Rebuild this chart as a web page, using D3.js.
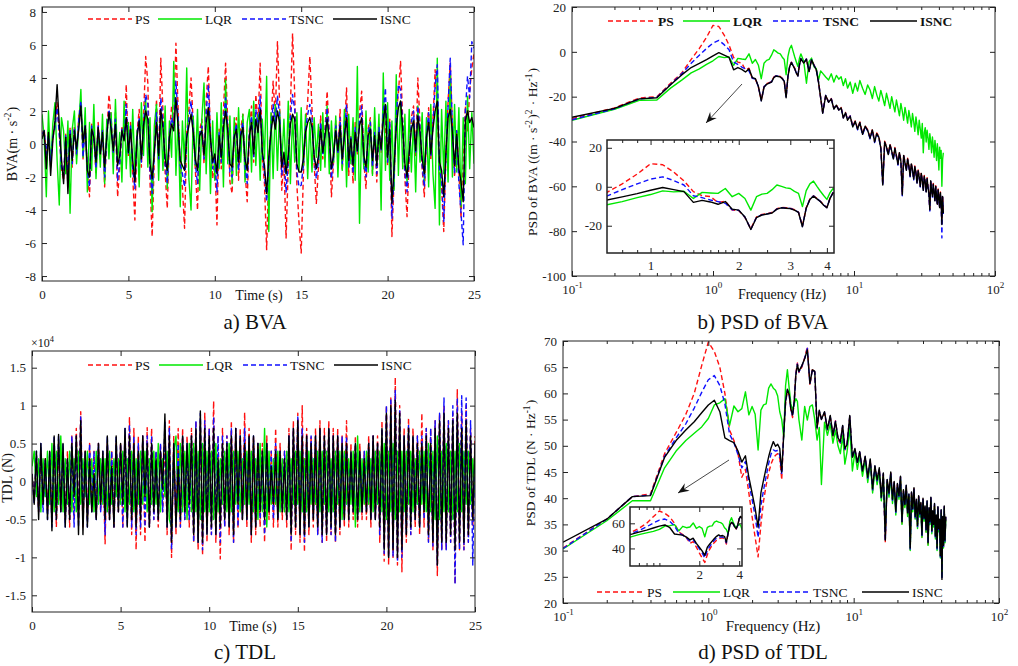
<!DOCTYPE html>
<html>
<head>
<meta charset="utf-8">
<script src="https://cdn.jsdelivr.net/npm/d3@7"></script>
<style>
body { margin: 0; background: #fff; }
</style>
</head>
<body>
<svg id="fig" width="1018" height="666"></svg>
<script>
// ---------------- data ----------------
var names = ["PS", "LQR", "TSNC", "ISNC"];
var timeStep = 0.125;          // s, time-domain samples
var timeTicks = [0, 5, 10, 15, 20, 25];

// a) BVA (m/s^2)
var bvaPS = [
 0.6, 0.9, -0.7, 0.5, -1.3, 0.4, 1.2, 2.5,
 0.7, -1.5, -2.2, 0.6, -2.6, 1.0, -1.4, 1.1,
 -0.7, 1.7, 2.5, -0.9, 1.4, -1.8, -3.2, 1.2,
 0.5, -1.8, 1.3, -0.7, 1.0, -2.6, 0.6, 3.0,
 1.6, -0.6, 1.9, -3.2, -1.4, 1.1, 0.2, 3.6,
 -0.8, 1.3, -2.0, -4.6, 0.7, 2.1, -1.4, 1.5,
 5.3, 3.7, -2.3, -5.6, -0.8, 2.7, -1.2, 5.2,
 2.0, -1.7, -3.9, 0.6, 2.3, 1.4, 6.1, 2.2,
 -1.8, -2.6, -5.1, 0.7, 2.1, 4.0, 1.2, -1.6,
 -4.0, 0.8, 1.5, -1.2, 2.6, 4.7, 0.5, -2.1,
 -1.0, -4.9, 0.9, -1.5, 2.0, 4.9, 1.3, -2.3,
 -3.0, 0.7, 1.6, -2.2, 0.9, 1.8, -1.7, -3.5,
 0.8, 2.3, -1.1, 3.0, 1.2, 4.9, -0.9, -2.4,
 -6.4, -1.5, 1.2, 3.8, 1.6, 6.2, 2.5, -2.8,
 -0.9, -5.7, -1.4, 2.2, 6.7, 3.0, -2.5, -4.8,
 -6.6, -1.9, 1.3, 2.6, 5.3, 2.1, -1.2, -3.6,
 -1.4, 1.7, -0.9, 0.8, 3.2, 0.6, -3.2, -1.0,
 1.4, -0.8, 2.1, -1.6, 0.7, 3.4, -1.9, 0.5,
 -2.4, 1.3, -0.6, 1.9, 3.2, -1.1, -2.7, 0.9,
 1.6, -1.8, 0.8, -2.3, 1.2, -0.5, 2.4, 1.0,
 -1.3, 1.5, -5.6, -2.2, 1.8, 3.1, 5.0, 1.4,
 -2.1, -4.4, -0.8, 1.6, 2.3, -0.7, 4.0, 1.2,
 -1.5, -3.2, 0.6, 2.2, -1.0, 1.4, 4.5, 2.0,
 -1.7, -2.6, -5.3, -0.8, 2.6, 4.9, 1.1, -2.0,
 0.9, -1.6, -4.5, -0.6, 2.3, 0.8, 3.2, 4.6,
 5.5];
var bvaLQR = [
 1.8, 0.4, -3.2, 2.0, -1.4, 1.2, 2.5, -1.0,
 -3.7, 1.6, 0.8, -1.8, 1.4, -4.2, 0.9, 2.0,
 -1.2, 1.1, 3.3, -0.8, 2.2, -2.9, 1.3, -1.6,
 2.4, -2.1, 0.9, -1.4, 1.8, -2.4, 1.5, -0.9,
 1.9, -1.8, 2.7, -1.1, 0.7, -2.3, 2.6, -1.5,
 1.3, -2.0, 2.1, -1.6, 0.8, -2.6, 2.5, -0.7,
 2.8, -1.4, 1.6, -4.1, 1.1, 2.4, -2.2, 1.8,
 -1.6, 2.3, -2.7, 1.4, -0.8, 5.0, -1.9, 1.6,
 -3.8, 1.4, -1.2, 4.6, -2.1, -4.0, 1.7, -1.3,
 2.1, -2.8, 1.5, 3.7, -1.8, 2.2, -3.0, 1.4,
 -2.2, 1.9, -1.5, 2.5, -2.6, 3.9, -1.2, 1.7,
 -2.4, 1.6, -1.9, 2.2, -1.1, 1.8, -2.3, 1.3,
 2.1, -1.7, 2.6, -1.3, 1.8, -2.2, 1.5, -0.9,
 4.1, -5.3, 1.9, -2.1, 2.4, -1.6, 2.0, -1.2,
 1.5, -1.8, 2.6, -2.4, 1.7, -1.1, 1.9, -1.6,
 2.2, -1.4, 1.8, -2.1, 1.3, -1.7, 1.6, -0.8,
 1.2, -1.6, 1.9, -1.4, 2.3, -1.8, 1.4, -1.1,
 1.7, -2.0, 1.3, -1.6, 2.1, -2.6, 1.8, -1.2,
 1.6, -2.2, 4.7, -4.8, 1.2, -1.5, 2.0, -1.7,
 1.4, -1.9, 2.2, -1.3, 1.8, -4.0, 4.3, -1.6,
 2.5, -2.2, 1.4, -2.8, 4.2, -1.9, 2.6, -1.5,
 1.8, -2.4, 2.1, -1.7, 1.5, -2.9, 2.3, -1.1,
 1.9, -2.3, 1.6, -2.6, 2.4, -1.8, -3.9, 5.2,
 -4.9, 2.1, -1.8, 2.6, -2.3, 4.3, -2.0, 2.4,
 -1.7, 2.2, -3.8, 1.6, -2.4, 2.9, -1.5, 1.9,
 -1.2];
var bvaTSNC = [
 0.6, 0.8, -0.6, 0.5, -1.1, 0.4, 1.0, 2.2,
 0.6, -1.4, -1.9, 0.5, -2.1, 0.9, -1.2, 1.0,
 -0.6, 1.5, 2.6, -0.8, 1.2, -1.6, -2.6, 1.1,
 0.4, -1.5, 1.1, -0.6, 0.8, -2.0, 0.5, 2.1,
 1.2, -0.5, 1.5, -2.2, -1.1, 0.9, 0.2, 2.4,
 -0.6, 1.1, -1.5, -2.7, 0.6, 1.6, -1.1, 1.2,
 3.0, 2.4, -1.7, -3.0, -0.6, 1.9, -0.9, 2.8,
 1.4, -1.2, -2.4, 0.5, 1.6, 1.1, 3.8, 1.6,
 -1.3, -1.8, -2.6, 0.5, 1.5, 2.6, 0.9, -1.2,
 -2.4, 0.6, 1.1, -0.9, 1.8, 3.6, 0.4, -1.5,
 -0.8, -2.9, 0.7, -1.1, 1.4, 2.8, 1.0, -1.7,
 -2.0, 0.5, 1.2, -1.6, 0.7, 1.3, -1.3, -2.4,
 0.6, 1.7, -0.8, 2.1, 0.9, 2.9, -0.7, -1.8,
 -3.5, -1.1, 0.9, 2.4, 1.2, 2.9, 1.8, -1.9,
 -0.7, -2.9, -1.0, 1.6, 3.0, 2.1, -1.7, -2.6,
 -2.5, -1.3, 0.9, 1.8, 2.4, 1.5, -0.9, -2.1,
 -1.0, 1.3, -0.7, 0.6, 2.2, 0.5, -2.1, -0.8,
 1.1, -0.6, 1.6, -1.2, 0.6, 2.4, -1.4, 0.4,
 -1.8, 1.0, -0.5, 1.5, 2.3, -0.9, -2.0, 0.7,
 1.3, -1.4, 0.7, -1.8, 1.0, -0.4, 1.9, 3.4,
 -1.1, 1.3, -4.5, -1.9, 1.5, 3.6, 3.3, 1.2,
 -1.7, -2.9, -0.7, 1.3, 2.0, -0.6, 2.3, 1.0,
 -1.3, -2.6, 0.5, 1.9, -0.8, 1.2, 3.5, 4.8,
 -1.5, -2.2, -4.7, -0.7, 2.3, 5.2, 1.0, -1.8,
 0.8, -2.4, -4.2, -6.1, 2.0, 4.1, 2.8, 6.2,
 5.8];
var bvaISNC = [
 0.3, 0.8, -1.5, 0.7, -1.9, 0.2, 1.4, 3.6,
 1.2, -0.9, -2.4, 0.4, -3.0, 0.6, -1.0, 0.8,
 -0.3, 0.9, 2.3, 0.1, 1.1, -1.6, -2.0, 0.9,
 0.4, -1.1, 1.0, -0.6, 0.7, -1.4, 0.5, 1.9,
 0.9, -0.4, 1.2, -1.3, -0.7, 0.8, 0.2, 1.6,
 -0.5, 0.9, -1.0, -2.3, 0.4, 1.4, -0.9, 1.1,
 2.0, 1.5, -1.2, -2.1, -0.5, 1.3, -0.7, 2.1,
 1.0, -0.9, -1.6, 0.4, 1.2, 0.8, 2.8, 1.1,
 -1.0, -1.3, -1.6, 0.4, 1.1, 1.8, 0.7, -0.9,
 -1.6, 0.5, 0.8, -0.7, 1.3, 2.2, 0.3, -1.1,
 -0.6, -1.8, 0.5, -0.8, 1.0, 2.0, 0.8, -1.2,
 -1.4, 0.4, 0.9, -1.1, 0.5, 1.0, -0.9, -1.6,
 0.5, 1.3, -0.6, 1.5, 0.7, 2.1, -0.5, -1.3,
 -3.0, -0.8, 0.7, 1.7, 0.9, 2.0, 1.3, -1.4,
 -0.5, -1.8, -0.7, 1.2, 1.8, 1.5, -1.2, -1.7,
 -1.7, -0.9, 0.7, 1.3, 1.6, 1.0, -0.7, -1.5,
 -0.7, 0.9, -0.5, 0.5, 1.5, 0.4, -1.5, -0.6,
 0.8, -0.4, 1.1, -0.9, 0.5, 1.6, -1.0, 0.3,
 -1.3, 0.7, -0.4, 1.1, 1.6, -0.7, -1.4, 0.5,
 0.9, -1.0, 0.5, -1.3, 0.7, -0.3, 1.4, 2.4,
 -0.8, 0.9, -3.6, -1.4, 1.0, 2.2, 2.6, 0.9,
 -1.2, -2.0, -0.5, 0.9, 1.4, -0.4, 1.7, 0.7,
 -0.9, -1.8, 0.4, 1.3, -0.6, 0.9, 2.0, 2.6,
 -1.1, -1.6, -3.2, -0.5, 1.6, 2.1, 0.7, -1.3,
 0.6, -1.5, -2.3, -3.5, 1.4, 2.0, 1.3, 1.6,
 1.0];

// c) TDL (x10^4 N)
var tdlPS = [
 0.1, -0.2, 0.3, -0.4, 0.4, -0.3, 0.3, -0.4,
 0.3, -0.5, 0.5, -0.6, 0.5, -0.4, 0.4, -0.5,
 0.4, -0.6, 0.6, -0.5, 0.7, -0.5, 0.92, -0.6,
 0.4, -0.5, 0.5, -0.4, 0.4, -0.5, 0.5, -0.4,
 0.3, -0.82, 0.5, -0.5, 0.4, -0.6, 0.5, -0.4,
 0.5, -0.6, 0.6, -0.5, 0.84, -0.7, 0.7, -0.9,
 0.6, -0.7, 0.6, -0.8, 0.71, -0.6, 0.7, -0.5,
 0.4, -0.6, 0.5, -0.4, 0.6, -0.7, 0.8, -1.0,
 0.6, -0.7, 0.7, -0.6, 0.7, -0.5, 0.6, -0.6,
 0.7, -0.8, 0.8, -0.9, 0.8, -0.97, 0.9, -0.8,
 0.7, -0.7, 1.06, -0.8, 0.6, -1.02, 0.7, -0.6,
 0.6, -0.7, 0.8, -0.8, 0.7, -0.6, 0.7, -0.5,
 0.91, -0.6, 0.7, -0.8, 0.6, -0.7, 0.5, -0.6,
 0.5, -0.8, 0.6, -0.5, 0.4, -0.6, 0.7, -0.6,
 0.5, -0.5, 0.4, -0.6, 0.7, -0.91, 0.8, -0.7,
 0.9, -0.8, 1.0, -0.93, 0.7, -0.7, 0.6, -0.6,
 0.7, -0.7, 0.8, -0.8, 0.7, -0.8, 0.8, -0.7,
 0.7, -0.8, 0.7, -0.7, 0.6, -0.6, 0.8, -0.6,
 0.5, -0.5, 0.6, -0.6, 0.5, -0.5, 0.4, -0.5,
 0.6, -0.6, 0.6, -0.5, 0.6, -0.8, 0.8, -1.05,
 1.0, -1.1, 1.1, -1.0, 1.37, -1.1, 1.0, -1.19,
 0.7, -0.8, 0.84, -0.7, 0.7, -0.6, 0.6, -0.7,
 0.9, -0.6, 0.7, -0.8, 0.7, -0.9, 0.8, -1.24,
 0.9, -0.9, 1.0, -0.9, 0.8, -0.8, 0.9, -1.35,
 1.21, -0.9, 0.9, -0.9, 1.0, -0.8, 0.7, -0.6,
 0.6];
var tdlLQR = [
 0.2, 0.4, -0.2, 0.3, -0.4, 0.3, -0.2, 0.4,
 -0.3, 0.5, -0.4, 0.4, -0.3, 0.6, -0.4, 0.3,
 -0.3, 0.4, -0.4, 0.3, -0.4, 0.4, -0.3, 0.3,
 -0.2, 0.4, -0.3, 0.3, -0.4, 0.4, -0.3, 0.3,
 -0.3, 0.3, -0.4, 0.4, -0.3, 0.3, -0.2, 0.3,
 -0.3, 0.4, -0.4, 0.3, -0.3, 0.4, -0.4, 0.3,
 -0.3, 0.4, -0.3, 0.4, -0.4, 0.3, -0.3, 0.4,
 -0.3, 0.5, -0.4, 0.3, -0.2, 0.4, -0.5, -0.6,
 0.4, 0.6, -0.4, 0.5, -0.4, 0.4, -0.5, 0.5,
 -0.4, 0.5, -0.4, 0.4, -0.5, 0.5, -0.4, 0.4,
 -0.4, 0.4, -0.5, 0.5, -0.4, 0.3, -0.3, 0.4,
 -0.4, 0.5, -0.4, 0.4, -0.3, 0.4, -0.4, 0.3,
 -0.3, 0.4, -0.3, 0.4, -0.4, 0.3, -0.5, 0.5,
 -0.4, 0.7, -0.6, 0.4, -0.3, 0.3, -0.3, 0.4,
 -0.4, 0.3, -0.4, 0.4, -0.4, 0.3, -0.3, 0.4,
 -0.3, 0.4, -0.4, 0.3, -0.4, 0.4, -0.3, 0.3,
 -0.3, 0.4, -0.4, 0.4, -0.3, 0.4, -0.4, 0.3,
 -0.4, 0.4, -0.3, 0.4, -0.5, 0.4, -0.3, 0.3,
 -0.3, 0.4, -0.6, 0.6, -0.4, 0.3, -0.3, 0.4,
 -0.3, 0.3, -0.4, 0.4, -0.3, 0.4, -0.4, 0.5,
 -0.5, 0.4, -0.4, 0.5, -0.5, 0.4, -0.4, 0.4,
 -0.4, 0.4, -0.3, 0.4, -0.4, 0.3, -0.3, 0.4,
 -0.3, 0.4, -0.4, 0.5, -0.4, 0.4, -0.5, 0.6,
 -0.5, 0.4, -0.4, 0.5, -0.4, 0.4, -0.5, 0.4,
 -0.4, 0.5, -0.4, 0.4, -0.3, 0.4, -0.3, 0.3,
 -0.2];
var tdlTSNC = [
 0.1, -0.3, 0.4, -0.4, 0.5, -0.4, 0.3, -0.5,
 0.4, -0.6, 0.6, -0.5, 0.6, -0.4, 0.5, -0.6,
 0.3, -0.5, 0.6, -0.6, 0.6, -0.6, 0.85, -0.5,
 0.4, -0.6, 0.5, -0.4, 0.4, -0.5, 0.5, -0.4,
 0.4, -0.7, 0.6, -0.5, 0.4, -0.6, 0.6, -0.4,
 0.5, -0.6, 0.7, -0.6, 0.75, -0.6, 0.6, -0.7,
 0.5, -0.6, 0.6, -0.6, 0.6, -0.6, 0.6, -0.5,
 0.4, -0.5, 0.5, -0.4, 0.8, -0.6, 0.7, -0.9,
 0.5, -0.6, 0.5, -0.6, 0.6, -0.5, 0.5, -0.5,
 0.6, -0.8, 0.8, -0.8, 0.9, -0.9, 0.8, -0.7,
 0.7, -0.7, 0.85, -0.7, 0.6, -0.8, 0.6, -0.6,
 0.6, -0.6, 0.7, -0.8, 0.7, -0.6, 0.6, -0.5,
 0.7, -0.5, 0.6, -0.7, 0.6, -0.6, 0.5, -0.5,
 0.4, -0.7, 0.5, -0.4, 0.4, -0.5, 0.5, -0.5,
 0.4, -0.4, 0.4, -0.5, 0.6, -0.8, 0.7, -0.6,
 0.85, -0.7, 0.7, -0.8, 0.6, -0.6, 0.6, -0.5,
 0.6, -0.7, 0.7, -0.8, 0.6, -0.7, 0.7, -0.7,
 0.6, -0.8, 0.6, -0.6, 0.6, -0.5, 0.6, -0.5,
 0.4, -0.4, 0.5, -0.5, 0.4, -0.4, 0.4, -0.4,
 0.5, -0.5, 0.6, -0.5, 0.5, -0.7, 0.7, -0.95,
 1.0, -1.0, 1.1, -1.0, 1.2, -1.05, 0.95, -1.0,
 0.6, -0.7, 0.75, -0.7, 0.6, -0.5, 0.6, -0.6,
 0.6, -0.5, 0.7, -0.8, 0.7, -0.85, 0.8, -1.1,
 0.9, -0.9, 1.1, -0.9, 0.8, -0.8, 1.0, -1.35,
 1.1, -0.9, 1.13, -0.9, 1.1, -0.8, 0.8, -1.1,
 0.5];
var tdlISNC = [
 0.1, -0.3, 0.4, -0.5, 0.5, -0.3, 0.3, -0.5,
 0.4, -0.65, 0.6, -0.5, 0.62, -0.4, 0.5, -0.6,
 0.3, -0.5, 0.5, -0.2, 0.6, -0.7, 0.8, -0.7,
 0.4, -0.6, 0.3, -0.4, 0.1, -0.5, 0.5, -0.3,
 0.4, -0.5, 0.6, -0.5, 0.2, -0.6, 0.6, -0.4,
 0.5, -0.3, 0.7, -0.6, 0.6, -0.5, 0.5, -0.6,
 0.4, -0.5, 0.6, -0.2, 0.5, -0.6, 0.5, -0.4,
 0.3, -0.5, 0.4, -0.1, 0.89, -0.6, 0.6, -0.8,
 0.5, -0.6, 0.2, -0.5, 0.6, -0.4, 0.5, -0.3,
 0.6, -0.7, 0.7, -0.8, 0.93, -0.8, 0.7, -0.7,
 0.6, -0.6, 0.7, -0.7, 0.3, -0.6, 0.5, -0.5,
 0.5, -0.6, 0.6, -0.7, 0.7, -0.3, 0.6, -0.5,
 0.5, -0.5, 0.6, -0.7, 0.6, -0.6, 0.5, -0.4,
 0.4, -0.5, 0.5, -0.4, 0.2, -0.3, 0.4, -0.5,
 0.4, -0.4, 0.3, -0.5, 0.6, -0.7, 0.7, -0.6,
 0.8, -0.7, 0.6, -0.7, 0.6, -0.6, 0.5, -0.5,
 0.6, -0.6, 0.7, -0.7, 0.6, -0.7, 0.7, -0.6,
 0.6, -0.7, 0.6, -0.6, 0.5, -0.5, 0.5, -0.5,
 0.4, -0.4, 0.5, -0.5, 0.4, -0.4, 0.3, -0.4,
 0.5, -0.5, 0.6, -0.5, 0.5, -0.6, 0.7, -0.9,
 0.9, -1.0, 1.0, -0.9, 1.07, -1.0, 0.9, -0.9,
 0.6, -0.7, 0.7, -0.6, 0.6, -0.5, 0.5, -0.6,
 0.5, -0.4, 0.6, -0.7, 0.5, -0.8, 0.7, -1.1,
 0.8, -0.8, 0.9, -0.8, 0.7, -0.7, 0.8, -0.9,
 0.9, -0.8, 0.7, -0.8, 0.8, -0.7, 0.6, -0.5,
 0.5];

// PSD frequency grid (Hz)
var freqs = [
 0.1, 0.2, 0.3, 0.4, 0.5, 0.6, 0.7, 0.8, 0.9, 1.0,
 1.1, 1.2, 1.3, 1.4, 1.5, 1.6, 1.7, 1.8, 1.9, 2.0,
 2.1, 2.2, 2.3, 2.4, 2.5, 2.6, 2.7, 2.8, 2.9, 3.0,
 3.1, 3.2, 3.3, 3.4, 3.5, 3.6, 3.7, 3.8, 3.9, 4.0, 4.1, 4.2,
 4.4, 4.6, 4.8, 5.0, 5.2, 5.4, 5.6, 5.8, 6.0, 6.3, 6.6, 6.9, 7.2, 7.5, 7.8, 8.1, 8.4, 8.7, 9.0, 9.4, 9.8,
 10.2, 10.6, 11.0, 11.5, 12, 12.5, 13, 13.5, 14, 14.5,
 15, 15.5, 16, 16.5, 17, 17.5, 18, 18.5, 19, 19.5,
 20, 20.5, 21, 21.5, 22, 22.5, 23, 23.5, 24, 24.5,
 25, 25.5, 26, 26.5, 27, 27.5, 28, 28.5, 29, 29.5,
 30, 30.5, 31, 31.5, 32, 32.5, 33, 33.5, 34, 34.5,
 35, 35.5, 36, 36.5, 37, 37.5, 38, 38.5, 39, 39.5,
 40, 40.5, 41, 41.5, 42, 42.5, 43];

// b) PSD of BVA
var psdBvaPS = [
 -29.8, -25.0, -20.6, -20.0, -14.0, -9.5, -3.4, 1.5, 6.5, 11.8,
 11.3, 7.5, 3.0, -2.5, -4.6, -5.0, -8.1, -7.3, -12.0, -12.2,
 -15.8, -21.6, -15.5, -14.2, -13.8, -13.2, -11.3, -10.6, -10.8, -11.0,
 -11.8, -13.0, -20.2, -10.8, -6.3, -4.6, -6.0, -7.4, -9.3, -10.6, -5.8, -3.0,
 -4.8, -3.2, -8.6, -3.4, -5.8, -7.8, -13.3, -20.3, -27.0, -19.3, -22.3, -20.8, -25.2, -23.6, -25.8, -24.8, -29.3, -27.0, -30.2, -28.5, -33.2,
 -30.8, -34.2, -31.3, -36.5, -33.0, -34.7, -38.2, -34.5, -39.9, -36.2,
 -37.7, -42.7, -59.0, -39.9, -42.2, -45.5, -41.2, -43.9, -47.5, -42.7,
 -46.2, -49.9, -44.7, -48.5, -63.5, -45.9, -49.2, -52.5, -47.5, -50.7,
 -55.2, -49.7, -52.5, -56.5, -50.9, -53.7, -58.2, -52.7, -55.5, -59.7,
 -53.9, -57.2, -61.5, -55.2, -57.9, -62.2, -56.2, -60.2, -63.2, -70.2,
 -57.2, -61.5, -64.2, -58.7, -62.7, -66.2, -59.7, -64.5, -67.7, -61.2,
 -65.2, -69.2, -62.5, -66.7, -76.5, -64.2, -71.7];
var psdBvaLQR = [
 -30.5, -25.6, -21.6, -21.5, -16.2, -12.6, -9.4, -7.6, -5.6, -4.0,
 -2.1, -2.6, -2.3, -6.0, -2.9, -3.2, -3.4, -0.9, -5.1, -3.4,
 -6.0, -12.0, -5.1, -3.8, -3.4, -1.5, 0.9, 0.2, -0.6, -0.9,
 -2.4, -3.4, -10.2, -2.0, 1.5, 2.9, 0.2, -2.3, -4.5, -6.5, -3.0, -0.9,
 -4.2, -14.0, -4.4, -2.8, -6.6, -7.5, -12.6, -8.5, -9.6, -11.2, -12.6, -9.8, -13.5, -10.5, -12.2, -11.1, -15.0, -12.0, -16.2, -13.5, -18.5,
 -14.0, -17.5, -12.8, -16.2, -19.0, -14.8, -17.0, -20.8, -15.5, -19.2,
 -22.0, -17.2, -20.5, -24.0, -18.5, -21.8, -25.2, -20.0, -23.5, -26.8,
 -21.5, -25.0, -28.5, -23.0, -26.5, -30.5, -24.8, -28.0, -31.8, -26.2,
 -29.5, -33.5, -27.5, -31.0, -35.5, -29.0, -32.8, -37.0, -30.5, -34.5,
 -38.5, -32.0, -45.0, -36.0, -33.8, -40.2, -35.0, -38.5, -43.5, -36.5,
 -40.0, -45.0, -38.0, -42.0, -47.0, -39.5, -43.5, -48.5, -41.0, -45.5,
 -52.7, -42.5, -47.5, -44.0, -60.0, -48.0, -45.0];
var psdBvaTSNC = [
 -30.3, -25.4, -21.0, -20.3, -14.5, -9.8, -5.1, -1.5, 1.5, 3.9,
 5.1, 3.2, 0.9, -4.6, -5.6, -6.8, -7.6, -8.5, -11.8, -12.1,
 -15.6, -21.8, -15.6, -14.4, -13.9, -13.4, -11.4, -10.7, -10.9, -11.1,
 -11.9, -13.1, -20.4, -10.9, -6.4, -4.7, -6.1, -7.5, -9.4, -10.7, -5.9, -3.0,
 -4.9, -3.2, -8.7, -3.5, -5.9, -7.9, -13.4, -20.4, -27.2, -19.4, -22.4, -20.9, -25.3, -23.7, -25.9, -24.9, -29.4, -27.1, -30.3, -28.6, -33.4,
 -31.3, -34.8, -31.8, -37.1, -33.5, -35.3, -38.8, -35.1, -40.5, -36.8,
 -38.3, -43.3, -59.8, -40.5, -42.8, -46.1, -41.8, -44.5, -48.1, -43.3,
 -46.8, -50.5, -45.3, -49.1, -64.2, -46.5, -49.8, -53.1, -48.1, -51.3,
 -55.8, -50.3, -53.1, -57.1, -51.5, -54.3, -58.8, -53.3, -56.1, -60.3,
 -54.5, -57.8, -62.1, -55.8, -58.5, -62.8, -56.8, -60.8, -63.8, -71.0,
 -57.8, -62.1, -64.8, -59.3, -63.3, -66.8, -60.3, -65.1, -68.3, -61.8,
 -65.8, -69.8, -63.1, -67.3, -83.0, -64.8, -72.3];
var psdBvaISNC = [
 -29.2, -25.2, -21.0, -20.5, -14.7, -10.3, -7.0, -5.2, -3.5, -1.8,
 -0.4, -1.5, -2.5, -8.0, -7.0, -7.8, -9.0, -7.6, -11.5, -12.0,
 -15.5, -21.9, -15.8, -14.5, -14.0, -13.5, -11.5, -10.8, -11.0, -11.2,
 -12.0, -13.2, -20.5, -11.0, -6.5, -4.8, -6.2, -7.6, -9.5, -10.8, -6.0, -3.1,
 -5.0, -3.3, -8.8, -3.6, -6.0, -8.0, -13.5, -20.5, -27.4, -19.5, -22.5, -21.0, -25.5, -23.8, -26.0, -25.0, -29.5, -27.2, -30.5, -28.8, -33.5,
 -31.0, -34.5, -31.5, -36.8, -33.2, -35.0, -38.5, -34.8, -40.2, -36.5,
 -38.0, -43.0, -59.4, -40.2, -42.5, -45.8, -41.5, -44.2, -47.8, -43.0,
 -46.5, -50.2, -45.0, -48.8, -63.8, -46.2, -49.5, -52.8, -47.8, -51.0,
 -55.5, -50.0, -52.8, -56.8, -51.2, -54.0, -58.5, -53.0, -55.8, -60.0,
 -54.2, -57.5, -61.8, -55.5, -58.2, -62.5, -56.5, -60.5, -63.5, -70.5,
 -57.5, -61.8, -64.5, -59.0, -63.0, -66.5, -60.0, -64.8, -68.0, -61.5,
 -65.5, -69.5, -62.8, -67.0, -77.0, -64.5, -72.0];

// d) PSD of TDL
var psdTdlPS = [
 30.5, 36.0, 40.3, 40.8, 48.5, 52.5, 56.0, 60.0, 65.3, 69.8,
 68.0, 65.0, 60.0, 53.0, 51.0, 48.5, 44.0, 45.5, 41.0, 36.5,
 32.5, 28.8, 35.0, 39.5, 42.5, 44.8, 46.5, 47.6, 48.2, 48.5,
 47.6, 43.5, 52.5, 58.2, 60.5, 59.6, 56.8, 55.4, 58.3, 63.8, 65.8, 64.0,
 65.0, 66.8, 68.9, 61.6, 64.8, 64.0, 53.2, 56.5, 55.2, 56.2, 53.0, 55.5, 51.8, 54.8, 51.2, 50.5, 53.6, 49.2, 50.0, 55.5, 47.6,
 49.3, 46.5, 48.7, 45.0, 47.8, 43.6, 47.2, 41.5, 46.0, 43.2,
 45.5, 40.0, 44.6, 31.6, 43.4, 40.6, 44.8, 39.5, 43.0, 37.2,
 42.6, 40.2, 44.0, 35.2, 41.4, 38.5, 42.3, 36.9, 40.6, 30.2,
 41.0, 37.8, 41.8, 36.2, 39.6, 34.5, 40.3, 36.8, 39.0, 32.6,
 39.8, 36.0, 38.3, 33.6, 39.3, 31.2, 38.0, 35.3, 40.0, 33.5,
 37.4, 34.7, 38.8, 32.5, 36.6, 30.2, 38.2, 33.9, 35.8, 28.7,
 37.6, 24.8, 36.3, 30.7, 38.3, 31.7, 36.3];
var psdTdlLQR = [
 30.3, 35.7, 39.5, 39.5, 45.8, 49.0, 51.0, 52.4, 53.6, 55.2,
 57.8, 58.2, 59.0, 53.9, 57.6, 56.5, 57.1, 60.3, 55.9, 57.5,
 56.0, 49.2, 56.8, 57.8, 58.0, 61.0, 61.8, 61.0, 60.6, 59.5,
 56.5, 55.0, 51.7, 61.5, 64.5, 61.0, 58.0, 56.8, 58.0, 59.0, 58.5, 55.0,
 51.1, 57.5, 54.9, 57.5, 57.8, 55.0, 51.1, 53.5, 42.6, 54.5, 52.0, 54.2, 50.5, 53.0, 50.0, 48.5, 52.0, 46.5, 48.8, 53.5, 45.2,
 48.8, 45.5, 48.0, 44.2, 47.2, 43.0, 46.8, 41.0, 45.5, 42.6,
 45.0, 39.5, 44.0, 34.2, 43.0, 40.2, 44.2, 39.0, 42.5, 36.8,
 42.0, 39.8, 43.5, 35.0, 41.0, 38.2, 41.8, 36.5, 40.2, 30.0,
 40.6, 37.4, 41.2, 36.0, 39.2, 34.2, 39.8, 36.4, 38.6, 32.5,
 39.4, 35.6, 38.0, 33.5, 39.0, 31.0, 37.6, 35.0, 39.6, 33.2,
 37.0, 34.5, 38.4, 32.2, 36.2, 30.0, 37.8, 33.6, 35.4, 28.6,
 37.2, 25.0, 36.0, 30.5, 38.0, 31.5, 36.0];
var psdTdlTSNC = [
 30.4, 36.0, 40.3, 40.6, 48.0, 51.5, 54.2, 57.2, 60.2, 62.6,
 63.4, 61.5, 58.0, 52.2, 50.6, 48.3, 45.8, 47.0, 43.0, 39.8,
 36.5, 32.5, 38.5, 41.6, 44.2, 46.6, 48.4, 49.2, 49.0, 49.1,
 48.2, 44.5, 52.2, 58.4, 60.7, 59.7, 57.0, 55.6, 58.4, 63.6, 65.6, 64.1,
 65.2, 66.7, 68.6, 61.8, 64.6, 64.1, 53.4, 56.6, 55.1, 56.4, 53.1, 55.6, 51.9, 54.7, 51.3, 50.6, 53.8, 49.3, 50.1, 55.6, 47.7,
 49.4, 46.6, 48.8, 45.1, 47.9, 43.8, 47.3, 41.6, 46.1, 43.3,
 45.6, 40.1, 44.7, 31.8, 43.5, 40.8, 44.9, 39.6, 43.1, 37.3,
 42.7, 40.3, 44.1, 35.3, 41.5, 38.6, 42.4, 37.0, 40.7, 30.3,
 41.1, 37.9, 41.9, 36.3, 39.7, 34.6, 40.4, 36.9, 39.1, 32.7,
 39.9, 36.1, 38.4, 33.7, 39.4, 31.3, 38.1, 35.4, 40.1, 33.6,
 37.5, 34.8, 38.9, 32.6, 36.7, 30.3, 38.3, 34.0, 35.9, 28.8,
 37.7, 24.6, 36.4, 30.8, 38.4, 31.8, 36.4];
var psdTdlISNC = [
 31.6, 36.0, 40.3, 40.5, 47.8, 51.0, 53.0, 54.6, 56.3, 57.8,
 58.7, 56.5, 51.5, 51.0, 50.6, 49.0, 46.9, 48.1, 44.0, 41.0,
 38.0, 34.5, 41.0, 43.5, 45.8, 47.9, 49.6, 50.8, 49.9, 50.3,
 49.5, 45.0, 52.0, 58.5, 60.8, 59.8, 57.0, 55.9, 58.5, 63.5, 65.5, 64.2,
 65.3, 66.6, 68.3, 61.9, 64.5, 64.2, 53.5, 56.8, 55.0, 56.5, 53.2, 55.8, 52.0, 54.6, 51.5, 50.8, 53.9, 49.5, 50.2, 55.8, 47.8,
 49.5, 46.8, 48.9, 45.2, 48.0, 44.0, 47.5, 41.8, 46.2, 43.5,
 45.8, 40.2, 44.8, 32.0, 43.6, 41.0, 45.0, 39.8, 43.2, 37.5,
 42.8, 40.5, 44.2, 35.5, 41.6, 38.8, 42.5, 37.2, 40.8, 30.5,
 41.2, 38.0, 42.0, 36.5, 39.8, 34.8, 40.5, 37.0, 39.2, 33.0,
 40.0, 36.2, 38.5, 34.0, 39.5, 31.5, 38.2, 35.6, 40.2, 33.8,
 37.6, 35.0, 39.0, 32.8, 36.8, 30.5, 38.4, 34.2, 36.0, 29.0,
 37.8, 24.5, 36.5, 31.0, 38.5, 32.0, 36.5];

// ---------------- drawing ----------------
var FONT = '"Liberation Serif", "Times New Roman", serif';
var colors = { PS: "#ff1010", LQR: "#00e800", TSNC: "#1010ff", ISNC: "#000000" };
var dashes = { PS: "5,3", LQR: null, TSNC: "5,3", ISNC: null };
var svg = d3.select("#fig");
var defs = svg.append("defs");
var clipCount = 0;

function makeClip(x, y, w, h) {
  var id = "clip" + (clipCount++);
  defs.append("clipPath").attr("id", id)
    .append("rect").attr("x", x).attr("y", y).attr("width", w).attr("height", h);
  return "url(#" + id + ")";
}

function drawSeries(g, list, xAt, y, width) {
  list.forEach(function(vals, k) {
    var n = names[k];
    g.append("path").datum(vals)
      .attr("d", d3.line().x(function(d, i) { return xAt(i); }).y(function(d) { return y(d); }))
      .attr("fill", "none")
      .attr("stroke", colors[n])
      .attr("stroke-width", width)
      .attr("stroke-linejoin", "round")
      .attr("stroke-dasharray", dashes[n]);
  });
}

function styleAxis(sel, fs) {
  sel.attr("font-family", FONT).attr("font-size", fs).attr("color", "#222");
  sel.select(".domain").remove();
}

function addSup(textSel, base, sup, fs) {
  textSel.text("");
  textSel.append("tspan").text(base);
  textSel.append("tspan").attr("dy", -fs * 0.45).attr("font-size", fs * 0.7).text(sup);
}

function drawAxes(g, x, y, o) {
  var xr = x.range(), yr = y.range();
  var xa = xr[0], xb = xr[1], yb = yr[0], yt = yr[1];
  var T = o.tick || 5, fs = o.fs || 13;
  var fmt = function(d) { return String(d); };
  var gb = g.append("g").attr("transform", "translate(0," + yb + ")")
    .call(d3.axisBottom(x).tickValues(o.xTicks).tickSize(-T).tickPadding(o.xPad).tickFormat(o.xFmt || fmt))
    .call(styleAxis, fs);
  g.append("g").attr("transform", "translate(0," + yt + ")")
    .call(d3.axisTop(x).tickValues(o.xTicks).tickSize(-T).tickFormat(""))
    .call(styleAxis, fs);
  g.append("g").attr("transform", "translate(" + xa + ",0)")
    .call(d3.axisLeft(y).tickValues(o.yTicks).tickSize(-T).tickPadding(o.yPad).tickFormat(fmt))
    .call(styleAxis, fs);
  g.append("g").attr("transform", "translate(" + xb + ",0)")
    .call(d3.axisRight(y).tickValues(o.yTicks).tickSize(-T).tickFormat(""))
    .call(styleAxis, fs);
  if (o.xMinor) {
    g.append("g").attr("transform", "translate(0," + yb + ")")
      .call(d3.axisBottom(x).tickValues(o.xMinor).tickSize(-3).tickFormat(""))
      .call(styleAxis, fs);
    g.append("g").attr("transform", "translate(0," + yt + ")")
      .call(d3.axisTop(x).tickValues(o.xMinor).tickSize(-3).tickFormat(""))
      .call(styleAxis, fs);
  }
  if (o.logLabels) {
    gb.selectAll(".tick text").each(function(d) {
      addSup(d3.select(this), "10", String(Math.round(Math.log10(d))), fs);
    });
  }
  g.append("rect").attr("x", xa).attr("y", yt).attr("width", xb - xa).attr("height", yb - yt)
    .attr("fill", "none").attr("stroke", "#222").attr("stroke-width", o.frame || 1);
}

function legend(y, starts, len, bold) {
  names.forEach(function(n, k) {
    svg.append("line")
      .attr("x1", starts[k]).attr("x2", starts[k] + len).attr("y1", y).attr("y2", y)
      .attr("stroke", colors[n]).attr("stroke-width", 1.5)
      .attr("stroke-dasharray", dashes[n]);
    svg.append("text")
      .attr("x", starts[k] + len + 3).attr("y", y + 4.5)
      .attr("font-family", FONT).attr("font-size", 13.5)
      .attr("font-weight", bold ? "bold" : "normal")
      .attr("fill", "#111").text(n);
  });
}

function arrow(x1, y1, x2, y2) {
  svg.append("line").attr("x1", x1).attr("y1", y1).attr("x2", x2).attr("y2", y2)
    .attr("stroke", "#333").attr("stroke-width", 0.9);
  var a = Math.atan2(y2 - y1, x2 - x1), L = 11, W = 4.5;
  function p(d, s) {
    return [x2 - d * Math.cos(a) - s * Math.sin(a), y2 - d * Math.sin(a) + s * Math.cos(a)];
  }
  svg.append("path")
    .attr("d", "M" + [x2, y2] + "L" + p(L, W) + "L" + p(L * 0.65, 0) + "L" + p(L, -W) + "Z")
    .attr("fill", "#111");
}

function yLabel(x, y, parts, fs) {
  var t = svg.append("text")
    .attr("transform", "translate(" + x + "," + y + ") rotate(-90)")
    .attr("text-anchor", "middle").attr("font-family", FONT).attr("font-size", fs).attr("fill", "#111");
  parts.forEach(function(p) {
    if (typeof p === "string") t.append("tspan").text(p);
    else {
      t.append("tspan").attr("dy", -fs * 0.4).attr("font-size", fs * 0.7).text(p.sup);
      t.append("tspan").attr("dy", fs * 0.4).text("\u200A");
    }
  });
}

function plainText(x, y, s, fs, anchor) {
  return svg.append("text").attr("x", x).attr("y", y)
    .attr("text-anchor", anchor || "middle").attr("font-family", FONT)
    .attr("font-size", fs).attr("fill", "#111").text(s);
}

var logMinor = [0.2, 0.3, 0.4, 0.5, 0.6, 0.7, 0.8, 0.9, 2, 3, 4, 5, 6, 7, 8, 9, 20, 30, 40, 50, 60, 70, 80, 90];

// ---- panel a ----
(function() {
  var x = d3.scaleLinear().domain([0, 25]).range([42, 474]);
  var y = d3.scaleLinear().domain([-8.3, 8.3]).range([281, 7]);
  var g = svg.append("g");
  var lines = g.append("g").attr("clip-path", makeClip(42, 7, 432, 274));
  drawSeries(lines, [bvaPS, bvaLQR, bvaTSNC, bvaISNC], function(i) { return x(i * timeStep); }, y, 1.4);
  drawAxes(g, x, y, { xTicks: timeTicks, yTicks: [-8, -6, -4, -2, 0, 2, 4, 6, 8], xPad: 9, yPad: 6 });
  legend(19, [88, 158, 242, 333], 44, false);
  plainText(259, 300, "Time (s)", 14);
  yLabel(17, 144, ["BVA(m \u00B7 s", { sup: "-2" }, ")"], 14);
  plainText(255, 329, "a) BVA", 21);
})();

// ---- panel c ----
(function() {
  var x = d3.scaleLinear().domain([0, 25]).range([32, 475]);
  var y = d3.scaleLinear().domain([-1.72, 1.72]).range([612, 351]);
  var g = svg.append("g");
  var lines = g.append("g").attr("clip-path", makeClip(32, 351, 443, 261));
  drawSeries(lines, [tdlPS, tdlLQR, tdlTSNC, tdlISNC], function(i) { return x(i * timeStep); }, y, 1.4);
  drawAxes(g, x, y, { xTicks: timeTicks, yTicks: [-1.5, -1, -0.5, 0, 0.5, 1, 1.5], xPad: 9, yPad: 6 });
  legend(365, [88, 159, 243, 334], 44, false);
  plainText(253, 631, "Time (s)", 14);
  yLabel(12, 478, ["TDL (N)"], 14);
  var e = plainText(31, 347, "", 12, "start");
  addSup(e, "\u00D710", "4", 12);
  plainText(245, 659, "c) TDL", 21);
})();

// ---- panel b ----
(function() {
  var x = d3.scaleLog().domain([0.1, 100]).range([572, 995]);
  var y = d3.scaleLinear().domain([-100, 20]).range([276, 7]);
  var g = svg.append("g");
  var lines = g.append("g").attr("clip-path", makeClip(572, 7, 423, 269));
  var all = [psdBvaPS, psdBvaLQR, psdBvaTSNC, psdBvaISNC];
  drawSeries(lines, all, function(i) { return x(freqs[i]); }, y, 1.4);
  drawAxes(g, x, y, { xTicks: [0.1, 1, 10, 100], xMinor: logMinor, yTicks: [-100, -80, -60, -40, -20, 0, 20],
    xPad: 9, yPad: 6, logLabels: true });

  // inset
  var xi = d3.scaleLog().domain([0.71, 4.23]).range([607, 834]);
  var yi = d3.scaleLinear().domain([-34, 24]).range([253, 140]);
  var gi = svg.append("g");
  gi.append("rect").attr("x", 607).attr("y", 140).attr("width", 227).attr("height", 113).attr("fill", "#fff");
  var li = gi.append("g").attr("clip-path", makeClip(607, 140, 227, 113));
  drawSeries(li, all, function(i) { return xi(freqs[i]); }, yi, 1.4);
  drawAxes(gi, xi, yi, { xTicks: [1, 2, 3, 4], xMinor: [0.8, 0.9, 1.1, 1.2, 1.3, 1.4, 1.5, 1.6, 1.7, 1.8, 1.9, 2.5, 3.5],
    yTicks: [-20, 0, 20], xPad: 8, yPad: 5, frame: 1.5 });

  arrow(742, 84, 706, 123);
  legend(21, [608, 683, 773, 870], 47, true);
  plainText(782, 299, "Frequency (Hz)", 14);
  yLabel(537, 152, ["PSD of BVA ((m \u00B7 s", { sup: "-2" }, ")", { sup: "2" }, " \u00B7 Hz", { sup: "-1" }, ")"], 13.5);
  plainText(763, 329, "b) PSD of BVA", 21);
})();

// ---- panel d ----
(function() {
  var x = d3.scaleLog().domain([0.1, 100]).range([563, 999]);
  var y = d3.scaleLinear().domain([20, 70]).range([603, 341]);
  var g = svg.append("g");
  var lines = g.append("g").attr("clip-path", makeClip(563, 341, 436, 262));
  var all = [psdTdlPS, psdTdlLQR, psdTdlTSNC, psdTdlISNC];
  drawSeries(lines, all, function(i) { return x(freqs[i]); }, y, 1.4);
  drawAxes(g, x, y, { xTicks: [0.1, 1, 10, 100], xMinor: logMinor,
    yTicks: [20, 25, 30, 35, 40, 45, 50, 55, 60, 65, 70], xPad: 9, yPad: 6, logLabels: true });

  var xi = d3.scaleLog().domain([0.6, 4.2]).range([630, 742]);
  var yi = d3.scaleLinear().domain([26, 73]).range([566, 507]);
  var gi = svg.append("g");
  gi.append("rect").attr("x", 630).attr("y", 507).attr("width", 112).attr("height", 59).attr("fill", "#fff");
  var li = gi.append("g").attr("clip-path", makeClip(630, 507, 112, 59));
  drawSeries(li, all, function(i) { return xi(freqs[i]); }, yi, 1.4);
  drawAxes(gi, xi, yi, { xTicks: [2, 4], xMinor: [0.7, 0.8, 0.9, 1, 3], yTicks: [40, 60], xPad: 4, yPad: 5, frame: 1.5 });

  arrow(729, 460, 678, 493);
  legend(592, [597, 673, 763, 862], 47, false);
  plainText(773, 631, "Frequency (Hz)", 15);
  yLabel(535, 463, ["PSD of TDL (N \u00B7 Hz", { sup: "-1" }, ")"], 13.5);
  plainText(763, 659, "d) PSD of TDL", 21);
})();
</script>
</body>
</html>
